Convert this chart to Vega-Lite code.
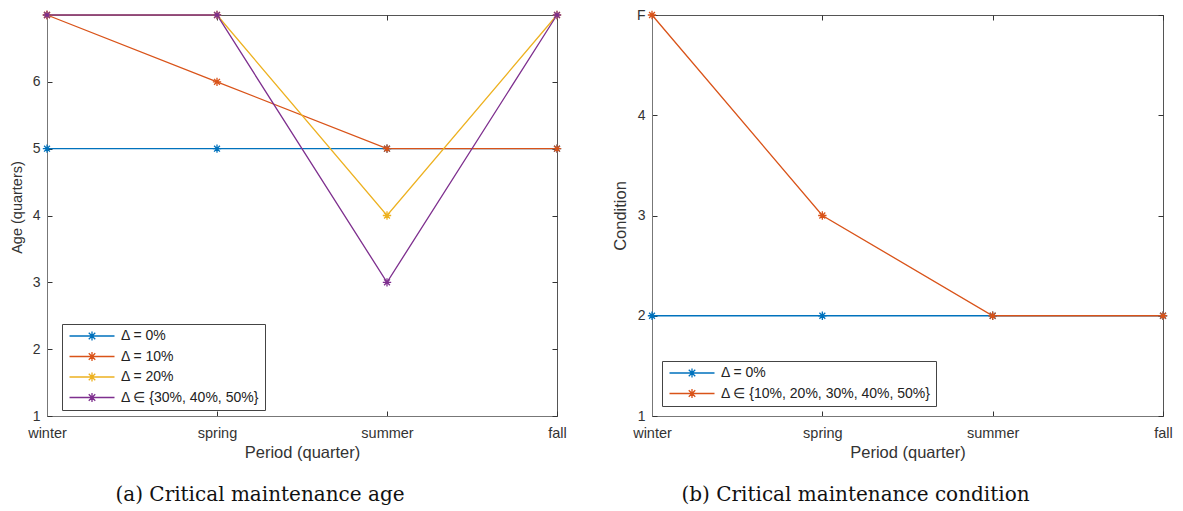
{
  "$schema": "https://vega.github.io/schema/vega-lite/v6.json",
  "padding": {"left": 8, "top": 7, "right": 10, "bottom": 0},
  "spacing": 44,
  "config": {
    "view": {"stroke": "#555", "strokeWidth": 1},
    "font": "Liberation Sans",
    "axis": {"grid": false, "domainColor": "#777", "tickColor": "#333", "labelColor": "#333", "titleColor": "#333", "labelFontSize": 14, "titleFontSize": 16.5, "titleFontWeight": "normal", "tickSize": -5, "labelFont": "Liberation Sans", "titleFont": "Liberation Sans"},
    "legend": {"labelFont": "Liberation Sans", "labelLimit": 0},
    "title": {"font": "DejaVu Serif", "fontSize": 20, "fontWeight": "normal", "color": "#111", "orient": "bottom", "offset": 24, "dx": -42}
  },
  "datasets": {
    "age": [
      {"period": "winter", "value": 5, "series": "Δ = 0%"},
      {"period": "spring", "value": 5, "series": "Δ = 0%"},
      {"period": "summer", "value": 5, "series": "Δ = 0%"},
      {"period": "fall", "value": 5, "series": "Δ = 0%"},
      {"period": "winter", "value": 7, "series": "Δ = 10%"},
      {"period": "spring", "value": 6, "series": "Δ = 10%"},
      {"period": "summer", "value": 5, "series": "Δ = 10%"},
      {"period": "fall", "value": 5, "series": "Δ = 10%"},
      {"period": "winter", "value": 7, "series": "Δ = 20%"},
      {"period": "spring", "value": 7, "series": "Δ = 20%"},
      {"period": "summer", "value": 4, "series": "Δ = 20%"},
      {"period": "fall", "value": 7, "series": "Δ = 20%"},
      {"period": "winter", "value": 7, "series": "Δ ∈ {30%, 40%, 50%}"},
      {"period": "spring", "value": 7, "series": "Δ ∈ {30%, 40%, 50%}"},
      {"period": "summer", "value": 3, "series": "Δ ∈ {30%, 40%, 50%}"},
      {"period": "fall", "value": 7, "series": "Δ ∈ {30%, 40%, 50%}"}
    ],
    "cond": [
      {"period": "winter", "value": 2, "series": "Δ = 0%"},
      {"period": "spring", "value": 2, "series": "Δ = 0%"},
      {"period": "summer", "value": 2, "series": "Δ = 0%"},
      {"period": "fall", "value": 2, "series": "Δ = 0%"},
      {"period": "winter", "value": 5, "series": "Δ ∈ {10%, 20%, 30%, 40%, 50%}"},
      {"period": "spring", "value": 3, "series": "Δ ∈ {10%, 20%, 30%, 40%, 50%}"},
      {"period": "summer", "value": 2, "series": "Δ ∈ {10%, 20%, 30%, 40%, 50%}"},
      {"period": "fall", "value": 2, "series": "Δ ∈ {10%, 20%, 30%, 40%, 50%}"}
    ]
  },
  "hconcat": [
    {
      "width": 510,
      "height": 401,
      "title": {"text": "(a) Critical maintenance age"},
      "data": {"name": "age"},
      "layer": [
        {
          "mark": {"type": "point", "opacity": 0},
          "encoding": {
            "x": {"field": "period", "type": "nominal", "scale": {"type": "point", "padding": 0, "domain": ["winter", "spring", "summer", "fall"]}, "sort": null, "axis": {"orient": "top", "labels": false, "title": null, "domain": false}},
            "y": {"field": "value", "type": "quantitative", "scale": {"domain": [1, 7], "nice": false, "zero": false}, "axis": {"orient": "right", "labels": false, "title": null, "domain": false, "values": [1, 2, 3, 4, 5, 6, 7]}}
          }
        },
        {
          "mark": {"type": "line", "strokeWidth": 1.3},
          "encoding": {
            "x": {"field": "period", "type": "nominal", "scale": {"type": "point", "padding": 0, "domain": ["winter", "spring", "summer", "fall"]}, "sort": null, "axis": {"orient": "bottom", "title": "Period (quarter)", "labelPadding": 15, "labelFontSize": 14.5, "titlePadding": 5, "labelAngle": 0}},
            "y": {"field": "value", "type": "quantitative", "scale": {"domain": [1, 7], "nice": false, "zero": false}, "axis": {"orient": "left", "title": "Age (quarters)", "titleFontSize": 14.5, "titleY": 192, "values": [1, 2, 3, 4, 5, 6], "labelPadding": 12, "titlePadding": 8}},
            "color": {
              "field": "series", "type": "nominal",
              "scale": {"domain": ["Δ = 0%", "Δ = 10%", "Δ = 20%", "Δ ∈ {30%, 40%, 50%}"], "range": ["#0072BD", "#D95319", "#EDB120", "#7E2F8E"]},
              "legend": {"title": null, "orient": "none", "legendX": 15, "legendY": 309, "strokeColor": "#444", "fillColor": "white", "padding": 5, "labelFontSize": 14, "labelColor": "#222", "symbolType": "M-4.5,0L4.5,0M-0.9,0L0.9,0M0,-0.9L0,0.9M-0.65,-0.65L0.65,0.65M-0.65,0.65L0.65,-0.65", "symbolSize": 100, "symbolStrokeWidth": 1.3, "symbolFillColor": "transparent", "symbolOffset": 18, "labelOffset": 22, "rowPadding": 4.5}
            }
          }
        },
        {
          "mark": {"type": "point", "filled": false, "shape": "M-1,0L1,0M0,-1L0,1M-0.7,-0.7L0.7,0.7M-0.7,0.7L0.7,-0.7", "size": 70, "strokeWidth": 1.3, "opacity": 1},
          "encoding": {
            "x": {"field": "period", "type": "nominal", "scale": {"type": "point", "padding": 0, "domain": ["winter", "spring", "summer", "fall"]}, "sort": null, "axis": null},
            "y": {"field": "value", "type": "quantitative", "scale": {"domain": [1, 7], "nice": false, "zero": false}, "axis": null},
            "color": {"field": "series", "type": "nominal", "scale": {"domain": ["Δ = 0%", "Δ = 10%", "Δ = 20%", "Δ ∈ {30%, 40%, 50%}"], "range": ["#0072BD", "#D95319", "#EDB120", "#7E2F8E"]}}
          }
        }
      ]
    },
    {
      "width": 511,
      "height": 401,
      "title": {"text": "(b) Critical maintenance condition", "dx": -52},
      "data": {"name": "cond"},
      "layer": [
        {
          "mark": {"type": "point", "opacity": 0},
          "encoding": {
            "x": {"field": "period", "type": "nominal", "scale": {"type": "point", "padding": 0, "domain": ["winter", "spring", "summer", "fall"]}, "sort": null, "axis": {"orient": "top", "labels": false, "title": null, "domain": false}},
            "y": {"field": "value", "type": "quantitative", "scale": {"domain": [1, 5], "nice": false, "zero": false}, "axis": {"orient": "right", "labels": false, "title": null, "domain": false, "values": [1, 2, 3, 4, 5]}}
          }
        },
        {
          "mark": {"type": "line", "strokeWidth": 1.3},
          "encoding": {
            "x": {"field": "period", "type": "nominal", "scale": {"type": "point", "padding": 0, "domain": ["winter", "spring", "summer", "fall"]}, "sort": null, "axis": {"orient": "bottom", "title": "Period (quarter)", "labelPadding": 15, "labelFontSize": 14.5, "titlePadding": 5, "labelAngle": 0}},
            "y": {"field": "value", "type": "quantitative", "scale": {"domain": [1, 5], "nice": false, "zero": false}, "axis": {"orient": "left", "title": "Condition", "titleFontSize": 16.5, "values": [1, 2, 3, 4, 5], "labelExpr": "datum.value == 5 ? 'F' : datum.label", "labelPadding": 12, "titlePadding": 8}},
            "color": {
              "field": "series", "type": "nominal",
              "scale": {"domain": ["Δ = 0%", "Δ ∈ {10%, 20%, 30%, 40%, 50%}"], "range": ["#0072BD", "#D95319"]},
              "legend": {"title": null, "orient": "none", "legendX": 10, "legendY": 346, "strokeColor": "#444", "fillColor": "white", "padding": 5, "labelFontSize": 14, "labelColor": "#222", "symbolType": "M-4.5,0L4.5,0M-0.9,0L0.9,0M0,-0.9L0,0.9M-0.65,-0.65L0.65,0.65M-0.65,0.65L0.65,-0.65", "symbolSize": 100, "symbolStrokeWidth": 1.3, "symbolFillColor": "transparent", "symbolOffset": 18, "labelOffset": 22, "rowPadding": 4.5}
            }
          }
        },
        {
          "mark": {"type": "point", "filled": false, "shape": "M-1,0L1,0M0,-1L0,1M-0.7,-0.7L0.7,0.7M-0.7,0.7L0.7,-0.7", "size": 70, "strokeWidth": 1.3, "opacity": 1},
          "encoding": {
            "x": {"field": "period", "type": "nominal", "scale": {"type": "point", "padding": 0, "domain": ["winter", "spring", "summer", "fall"]}, "sort": null, "axis": null},
            "y": {"field": "value", "type": "quantitative", "scale": {"domain": [1, 5], "nice": false, "zero": false}, "axis": null},
            "color": {"field": "series", "type": "nominal", "scale": {"domain": ["Δ = 0%", "Δ ∈ {10%, 20%, 30%, 40%, 50%}"], "range": ["#0072BD", "#D95319"]}}
          }
        }
      ]
    }
  ],
  "resolve": {"legend": {"color": "independent"}, "scale": {"color": "independent"}}
}
